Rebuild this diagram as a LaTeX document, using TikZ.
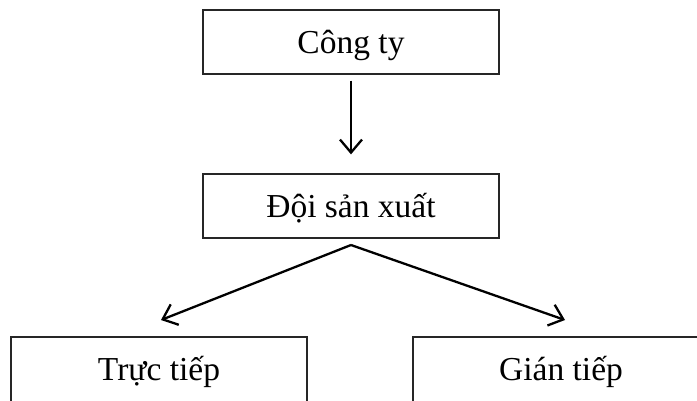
\documentclass[tikz,border=0pt]{standalone}
\usepackage{fontspec}
\setmainfont{Liberation Serif}
\usetikzlibrary{arrows.meta}
\tikzset{
  box/.style={draw=black!85, line width=1.3pt, minimum width=296pt,
    inner xsep=0pt, inner ysep=0pt, text height=43pt, text depth=21pt,
    font=\fontsize{33.5}{38}\selectfont},
  openbox/.style={box, text depth=24pt},
  link/.style={line width=2.3pt, -{Straight Barb[length=13pt,width=22pt]}}
}
\begin{document}
\begin{tikzpicture}[x=1pt,y=-1pt]
  \useasboundingbox (0,0) rectangle (697,400);
  \node[box] (cty) at (351,42) {Công ty};
  \node[box] (doi) at (351,206) {Đội sản xuất};
  \node[openbox] (tt) at (159,370.5) {Trực tiếp};
  \node[openbox] (gt) at (561,370.5) {Gián tiếp};
  \coordinate (split) at (351,245);
  \coordinate (tipL) at (161,320);
  \coordinate (tipR) at (565,320);
  \draw[link, shorten <=6pt, shorten >=19pt] (cty.south) -- (doi.north);
  \draw[link] (split) -- (tipL);
  \draw[link] (split) -- (tipR);
\end{tikzpicture}
\end{document}
